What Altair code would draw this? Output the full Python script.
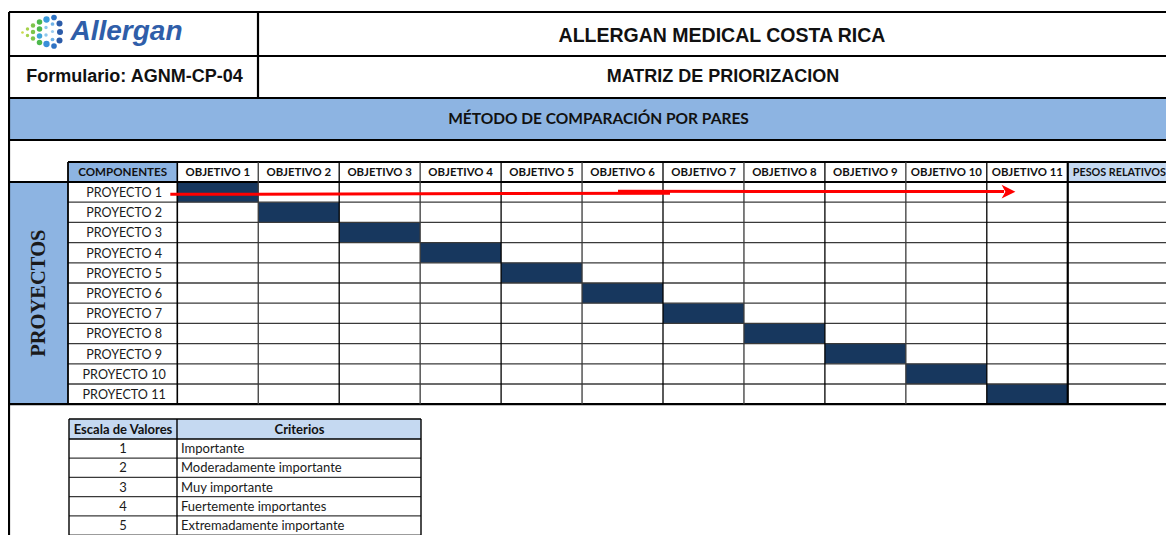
import altair as alt
import pandas as pd

# ---------------- data (texts and values of the sheet) ----------------
empresa = "ALLERGAN MEDICAL COSTA RICA"
formulario = "Formulario: AGNM-CP-04"
titulo = "MATRIZ DE PRIORIZACION"
metodo = "MÉTODO DE COMPARACIÓN POR PARES"
logo_texto = "Allergan"
encabezado_componentes = "COMPONENTES"
encabezado_pesos = "PESOS RELATIVOS"
etiqueta_lado = "PROYECTOS"
objetivos = ["OBJETIVO 1", "OBJETIVO 2", "OBJETIVO 3", "OBJETIVO 4", "OBJETIVO 5",
             "OBJETIVO 6", "OBJETIVO 7", "OBJETIVO 8", "OBJETIVO 9", "OBJETIVO 10",
             "OBJETIVO 11"]
proyectos = ["PROYECTO 1", "PROYECTO 2", "PROYECTO 3", "PROYECTO 4", "PROYECTO 5",
             "PROYECTO 6", "PROYECTO 7", "PROYECTO 8", "PROYECTO 9", "PROYECTO 10",
             "PROYECTO 11"]
# objective (1-based) shaded dark for each project row
celdas_marcadas = [1, 2, 3, 4, 5, 6, 7, 8, 9, 10, 11]
encabezado_escala = ["Escala de Valores", "Criterios"]
escala = [1, 2, 3, 4, 5]
criterios = ["Importante", "Moderadamente importante", "Muy importante",
             "Fuertemente importantes", "Extremadamente importante"]

# ---------------- layout (sheet geometry, page pixels) ----------------
W, H = 1158, 527
OX, OY = 8, 8
L, R, T = 9, 1190, 12
ROW_T = [12, 56, 98, 140]
COL_DIV = 258
TBL_TOP, HDR_BOT, ROW_H = 162, 182, 20.2
C0, C1, OBJ_W = 68, 177.3, 80.95
PES_X = C1 + OBJ_W * len(objetivos)
TBL_BOT = HDR_BOT + ROW_H * len(proyectos)
S_X = [69, 177, 421]
S_TOP, S_HDR, S_ROW = 419, 439, 19.2

BLUE = "#8DB4E2"
LIGHT = "#C5D9F1"
DARK = "#17375E"

XS = alt.Scale(domain=[OX, OX + W], nice=False, zero=False)
YS = alt.Scale(domain=[OY, OY + H], nice=False, zero=False, reverse=True)


def X(f="x"):
    return alt.X(f"{f}:Q", scale=XS, axis=None)


def Y(f="y"):
    return alt.Y(f"{f}:Q", scale=YS, axis=None)


# ---------------- fills ----------------
fills = [
    dict(x=L, x2=R, y=ROW_T[2], y2=ROW_T[3], fill=BLUE),
    dict(x=C0, x2=C1, y=TBL_TOP, y2=HDR_BOT, fill=BLUE),
    dict(x=L, x2=C0, y=HDR_BOT, y2=TBL_BOT, fill=BLUE),
    dict(x=PES_X, x2=R, y=TBL_TOP, y2=HDR_BOT, fill=LIGHT),
    dict(x=S_X[0], x2=S_X[2], y=S_TOP, y2=S_HDR, fill=LIGHT),
]
for i, obj in enumerate(celdas_marcadas):
    fills.append(dict(x=C1 + OBJ_W * (obj - 1), x2=C1 + OBJ_W * obj,
                      y=HDR_BOT + ROW_H * i, y2=HDR_BOT + ROW_H * (i + 1), fill=DARK))
fills_df = pd.DataFrame(fills)

rects = alt.Chart(fills_df).mark_rect(clip=True).encode(
    x=X("x"), x2="x2", y=Y("y"), y2="y2",
    color=alt.Color("fill:N", scale=None))

# ---------------- lines ----------------
lines = []


def hline(y, x0, x1, w=1.3, c="#000000"):
    lines.append(dict(x=x0, x2=x1, y=y, y2=y, w=w, c=c))


def vline(x, y0, y1, w=1.3, c="#000000"):
    lines.append(dict(x=x, x2=x, y=y0, y2=y1, w=w, c=c))


for yy in ROW_T:
    hline(yy, L, R, 2.2)
vline(L, T, OY + H + 10, 2.2)
vline(COL_DIV, ROW_T[0], ROW_T[2], 2.2)
hline(TBL_TOP, C0, R, 1.8)
hline(HDR_BOT, L, R, 1.8)
for i in range(1, len(proyectos)):
    hline(HDR_BOT + ROW_H * i, C0, R, 1.3, "#3a3a3a")
hline(TBL_BOT, L, R, 2.2)
vline(C0, TBL_TOP, TBL_BOT, 1.8)
for k in range(len(objetivos)):
    vline(C1 + OBJ_W * k, TBL_TOP, TBL_BOT, 1.6 if k == 0 else 1.3,
          "#000000" if k % 2 == 0 else "#3a3a3a")
vline(PES_X, TBL_TOP, TBL_BOT, 2.2)
# small table
for j in range(len(escala) + 2):
    yy = S_TOP if j == 0 else S_HDR + S_ROW * (j - 1)
    hline(yy, S_X[0], S_X[2], 1.6 if j < 2 else 1.2, "#000000" if j < 2 else "#3a3a3a")
for xx in S_X:
    vline(xx, S_TOP, S_HDR + S_ROW * len(escala) + 2, 1.4)
lines_df = pd.DataFrame(lines)

rules = alt.Chart(lines_df).mark_rule(clip=True).encode(
    x=X("x"), x2="x2", y=Y("y"), y2="y2",
    strokeWidth=alt.StrokeWidth("w:Q", scale=None),
    color=alt.Color("c:N", scale=None))

# ---------------- texts ----------------
arial_bold = pd.DataFrame([
    dict(x=722, y=35.8, t=empresa, fs=19.5),
    dict(x=723, y=77, t=titulo, fs=18),
    dict(x=134.5, y=77, t=formulario, fs=18),
])
t_arial = alt.Chart(arial_bold).mark_text(
    font="Liberation Sans", fontWeight="bold", align="center", baseline="middle",
    clip=True, color="#111111").encode(
    x=X(), y=Y(), text="t:N", size=alt.Size("fs:Q", scale=None))

hdr_y = (TBL_TOP + HDR_BOT) / 2 + 0.6
bold_c = [dict(x=598.5, y=119.3, t=metodo, fs=15.5),
          dict(x=(C0 + C1) / 2, y=hdr_y, t=encabezado_componentes, fs=11.6)]
for k, o in enumerate(objetivos):
    bold_c.append(dict(x=C1 + OBJ_W * (k + 0.5), y=hdr_y, t=o, fs=11.4))
bold_c.append(dict(x=(S_X[0] + S_X[1]) / 2, y=(S_TOP + S_HDR) / 2 + 0.5,
                   t=encabezado_escala[0], fs=13))
bold_c.append(dict(x=(S_X[1] + S_X[2]) / 2 + 0.5, y=(S_TOP + S_HDR) / 2 + 0.5,
                   t=encabezado_escala[1], fs=13))
t_bold = alt.Chart(pd.DataFrame(bold_c)).mark_text(
    font="Lato", fontWeight="bold", align="center", baseline="middle",
    clip=True, color="#111111").encode(
    x=X(), y=Y(), text="t:N", size=alt.Size("fs:Q", scale=None))

t_pesos = alt.Chart(pd.DataFrame([dict(x=PES_X + 5, y=hdr_y, t=encabezado_pesos)])).mark_text(
    font="Lato", fontWeight="bold", align="left", baseline="middle", fontSize=10.8,
    clip=True, color="#111111").encode(x=X(), y=Y(), text="t:N")

reg_c = []
for i, p in enumerate(proyectos):
    reg_c.append(dict(x=(C0 + C1) / 2 + 1.5, y=HDR_BOT + ROW_H * (i + 0.5) + 0.8, t=p, fs=12.6))
for i, v in enumerate(escala):
    reg_c.append(dict(x=(S_X[0] + S_X[1]) / 2, y=S_HDR + S_ROW * (i + 0.5) + 0.6, t=str(v), fs=13))
t_reg = alt.Chart(pd.DataFrame(reg_c)).mark_text(
    font="Lato", align="center", baseline="middle",
    clip=True, color="#1a1a1a").encode(
    x=X(), y=Y(), text="t:N", size=alt.Size("fs:Q", scale=None))

crit = [dict(x=S_X[1] + 4, y=S_HDR + S_ROW * (i + 0.5) + 0.6, t=c)
        for i, c in enumerate(criterios)]
t_crit = alt.Chart(pd.DataFrame(crit)).mark_text(
    font="Lato", align="left", baseline="middle", fontSize=13,
    clip=True, color="#1a1a1a").encode(x=X(), y=Y(), text="t:N")

t_side = alt.Chart(pd.DataFrame([dict(x=38.5, y=(HDR_BOT + TBL_BOT) / 2, t=etiqueta_lado)])).mark_text(
    font="Liberation Serif", fontWeight="bold", align="center", baseline="middle",
    fontSize=20.5, angle=270, clip=True, color="#1a1a1a").encode(x=X(), y=Y(), text="t:N")

# ---------------- logo ----------------
t_logo = alt.Chart(pd.DataFrame([dict(x=70.5, y=32, t=logo_texto)])).mark_text(
    font="Liberation Sans", fontWeight="bold", fontStyle="italic", align="left",
    baseline="middle", fontSize=28, clip=True, color="#2F5EA9").encode(
    x=X(), y=Y(), text="t:N")

dots = pd.DataFrame([
    dict(x=22.5, y=32.5, s=7, c="#C9DA4B"),
    dict(x=27.5, y=29, s=12, c="#A6D24C"),
    dict(x=27.5, y=35.5, s=12, c="#A6D24C"),
    dict(x=33, y=25.5, s=20, c="#7CC54B"),
    dict(x=33, y=32, s=20, c="#7CC54B"),
    dict(x=33, y=38.5, s=20, c="#7CC54B"),
    dict(x=39.5, y=22, s=30, c="#4DB84C"),
    dict(x=39.5, y=29, s=30, c="#4DB84C"),
    dict(x=39.5, y=36, s=30, c="#3DA3D8"),
    dict(x=39.5, y=42.5, s=30, c="#4DB84C"),
    dict(x=46.5, y=19.5, s=40, c="#3A9BDC"),
    dict(x=46, y=27.5, s=12, c="#8CC7EE"),
    dict(x=46, y=35, s=12, c="#8CC7EE"),
    dict(x=46.5, y=44, s=40, c="#3A8FD8"),
    dict(x=52.5, y=24, s=14, c="#6FB3E8"),
    dict(x=52.5, y=31.5, s=10, c="#9CCDF0"),
    dict(x=52.5, y=39.5, s=14, c="#6FB3E8"),
    dict(x=54, y=17.5, s=32, c="#2F73C4"),
    dict(x=54, y=46, s=32, c="#2F73C4"),
    dict(x=59.5, y=23.5, s=36, c="#2B5BA8"),
    dict(x=60, y=32, s=36, c="#2B5BA8"),
    dict(x=59.5, y=40.5, s=36, c="#2B5BA8"),
])
logo_dots = alt.Chart(dots).mark_circle(opacity=1, clip=True).encode(
    x=X(), y=Y(), size=alt.Size("s:Q", scale=None), color=alt.Color("c:N", scale=None))

# ---------------- red arrow across PROYECTO 1 row ----------------
row1_y = HDR_BOT + ROW_H * 0.5
arrow_lines = pd.DataFrame([
    dict(x=C1 - 7, x2=670, y=row1_y + 2.2, y2=row1_y + 1.2),
    dict(x=618, x2=1004, y=row1_y - 0.8, y2=row1_y - 0.5),
])
arrow = alt.Chart(arrow_lines).mark_rule(color="#FF0000", strokeWidth=3, clip=True).encode(
    x=X("x"), x2="x2", y=Y("y"), y2="y2")
head = alt.Chart(pd.DataFrame([dict(x=1008.5, y=row1_y - 0.4)])).mark_point(
    shape="M-1,-1L1,0L-1,1L-0.45,0Z", filled=True, color="#FF0000", opacity=1,
    size=190, strokeWidth=0, clip=True).encode(x=X(), y=Y())

chart = alt.layer(
    rects, rules, t_arial, t_bold, t_pesos, t_reg, t_crit, t_side,
    t_logo, logo_dots, arrow, head
).properties(
    width=W, height=H, background="white", padding=0,
    autosize=alt.AutoSizeParams(type="none")
).configure_view(stroke=None)

chart.save("out.html", embed_options={"renderer": "svg", "actions": False})
